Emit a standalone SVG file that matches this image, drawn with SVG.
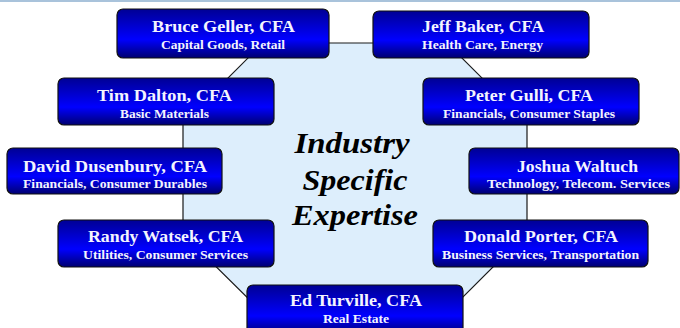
<svg xmlns="http://www.w3.org/2000/svg" width="680" height="328" viewBox="0 0 680 328">
<defs>
<linearGradient id="boxg" x1="0" y1="0" x2="0" y2="1">
<stop offset="0" stop-color="#000094"/>
<stop offset="0.62" stop-color="#0000ff"/>
<stop offset="1" stop-color="#000070"/>
</linearGradient>
</defs>
<style>
.box{fill:url(#boxg);stroke:#111;stroke-width:1.2}
.nm{font-family:"Liberation Serif","Times New Roman",serif;font-weight:bold;font-size:17.5px;fill:#f4f4ff;text-anchor:middle}
.sb{font-family:"Liberation Serif","Times New Roman",serif;font-weight:bold;font-size:13px;fill:#f4f4ff;text-anchor:middle}
.ct{font-family:"Liberation Serif","Times New Roman",serif;font-weight:bold;font-style:italic;font-size:29px;fill:#000;text-anchor:middle}
.edge{fill:none;stroke:#1a1a1a;stroke-width:1.2}
</style>
<rect x="0" y="0" width="680" height="328" fill="#fff"/>
<line x1="0" y1="1" x2="680" y2="1" stroke="#a9c3db" stroke-width="2"/>
<polygon points="263,43 447,43 527,123 527,233 447,313 263,313 183,234 183,123" fill="#ddeefc"/>
<g id="connectors">
<polygon class="edge" points="263,43 447,43 527,123 527,233 447,313 263,313 183,234 183,123"/>
</g>
<g id="center">
<text class="ct" x="352" y="153" textLength="115" lengthAdjust="spacingAndGlyphs">Industry</text>
<text class="ct" x="355" y="190" textLength="105" lengthAdjust="spacingAndGlyphs">Specific</text>
<text class="ct" x="355" y="225" textLength="126" lengthAdjust="spacingAndGlyphs">Expertise</text>
</g>
<g id="bruce">
<rect class="box" x="117" y="9" width="212" height="49" rx="6"/>
<text class="nm" x="223.5" y="32" textLength="143" lengthAdjust="spacingAndGlyphs">Bruce Geller, CFA</text>
<text class="sb" x="223" y="49" textLength="124" lengthAdjust="spacingAndGlyphs">Capital Goods, Retail</text>
</g>
<g id="jeff">
<rect class="box" x="373" y="11" width="216" height="47" rx="6"/>
<text class="nm" x="483" y="32" textLength="122" lengthAdjust="spacingAndGlyphs">Jeff Baker, CFA</text>
<text class="sb" x="482.5" y="49" textLength="121" lengthAdjust="spacingAndGlyphs">Health Care, Energy</text>
</g>
<g id="tim">
<rect class="box" x="58" y="78" width="216" height="47" rx="6"/>
<text class="nm" x="164.5" y="101" textLength="135" lengthAdjust="spacingAndGlyphs">Tim Dalton, CFA</text>
<text class="sb" x="164.5" y="118" textLength="89" lengthAdjust="spacingAndGlyphs">Basic Materials</text>
</g>
<g id="peter">
<rect class="box" x="423" y="78" width="216" height="47" rx="6"/>
<text class="nm" x="529" y="101" textLength="128" lengthAdjust="spacingAndGlyphs">Peter Gulli, CFA</text>
<text class="sb" x="529" y="118" textLength="172" lengthAdjust="spacingAndGlyphs">Financials, Consumer Staples</text>
</g>
<g id="david">
<rect class="box" x="7" y="148" width="215" height="46" rx="6"/>
<text class="nm" x="115" y="172" textLength="184" lengthAdjust="spacingAndGlyphs">David Dusenbury, CFA</text>
<text class="sb" x="115" y="188" textLength="184" lengthAdjust="spacingAndGlyphs">Financials, Consumer Durables</text>
</g>
<g id="joshua">
<rect class="box" x="469" y="148" width="210" height="46" rx="6"/>
<text class="nm" x="577.5" y="172" textLength="121" lengthAdjust="spacingAndGlyphs">Joshua Waltuch</text>
<text class="sb" x="578.5" y="188" textLength="183" lengthAdjust="spacingAndGlyphs">Technology, Telecom. Services</text>
</g>
<g id="randy">
<rect class="box" x="58" y="220" width="216" height="47" rx="6"/>
<text class="nm" x="165.5" y="242" textLength="155" lengthAdjust="spacingAndGlyphs">Randy Watsek, CFA</text>
<text class="sb" x="165.5" y="259" textLength="165" lengthAdjust="spacingAndGlyphs">Utilities, Consumer Services</text>
</g>
<g id="donald">
<rect class="box" x="433" y="220" width="215" height="47" rx="6"/>
<text class="nm" x="541" y="242" textLength="154" lengthAdjust="spacingAndGlyphs">Donald Porter, CFA</text>
<text class="sb" x="540.5" y="259" textLength="197" lengthAdjust="spacingAndGlyphs">Business Services, Transportation</text>
</g>
<g id="ed">
<rect class="box" x="247" y="285" width="216" height="50" rx="6"/>
<text class="nm" x="356" y="306" textLength="132" lengthAdjust="spacingAndGlyphs">Ed Turville, CFA</text>
<text class="sb" x="356" y="323" textLength="66" lengthAdjust="spacingAndGlyphs">Real Estate</text>
</g>
</svg>
